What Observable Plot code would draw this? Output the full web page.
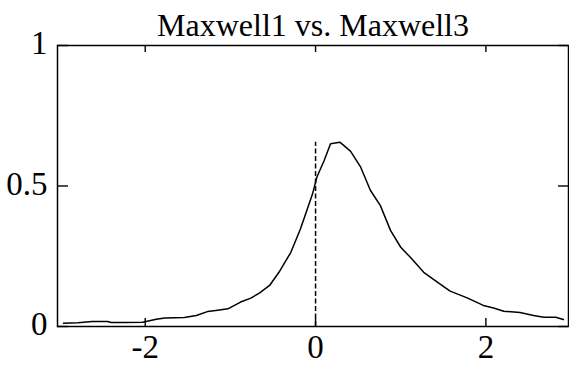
<!DOCTYPE html>
<html>
<head>
<meta charset="utf-8">
<script src="https://cdn.jsdelivr.net/npm/d3@7"></script>
<script src="https://cdn.jsdelivr.net/npm/@observablehq/plot@0.6"></script>
<style>
  html, body { margin: 0; padding: 0; background: #fff; }
  #chart svg { display: block; }
</style>
</head>
<body>
<div id="chart"></div>
<script>
// ---- data ----
const titleText = ["Maxwell1 vs. Maxwell3"];
const xValues = [-2.96, -2.79, -2.62, -2.44, -2.40, -2.24, -2.03, -1.87, -1.77, -1.54,
  -1.40, -1.27, -1.17, -1.03, -0.88, -0.76, -0.66, -0.54, -0.43, -0.29,
  -0.18, -0.13, -0.035, 0.015, 0.10, 0.176, 0.285, 0.41, 0.53, 0.645,
  0.76, 0.88, 1.00, 1.11, 1.27, 1.43, 1.58, 1.78, 1.97, 2.09,
  2.21, 2.40, 2.56, 2.68, 2.82, 2.91];
const yValues = [0.012, 0.013, 0.018, 0.018, 0.014, 0.014, 0.015, 0.026, 0.030, 0.032,
  0.039, 0.053, 0.057, 0.063, 0.087, 0.101, 0.119, 0.146, 0.193, 0.264,
  0.345, 0.389, 0.472, 0.531, 0.590, 0.650, 0.656, 0.624, 0.567, 0.484,
  0.431, 0.342, 0.282, 0.247, 0.193, 0.158, 0.126, 0.102, 0.075, 0.066,
  0.054, 0.050, 0.039, 0.033, 0.033, 0.025];
const markerX = [0];
const markerTop = [0.656];
const xTicks = [-2, 0, 2];
const yTicks = [0, 0.5, 1];

// ---- build ----
const curve = xValues.map((x, i) => ({x, y: yValues[i]}));
const marker = markerX.map((x, i) => ({x, y1: 0, y2: markerTop[i]}));

const W = 569, H = 367;
const mL = 57, mR = 1, mT = 45, mB = 41;
const fw = W - mL - mR, fh = H - mT - mB;
const font = "'Liberation Serif', 'Times New Roman', serif";

const plot = Plot.plot({
  width: W,
  height: H,
  marginLeft: mL, marginRight: mR, marginTop: mT, marginBottom: mB,
  style: {fontFamily: font, color: "#000", background: "#fff"},
  x: {domain: [-3.03, 2.97], axis: null},
  y: {domain: [0, 1], axis: null},
  marks: [
    Plot.axisX({ticks: xTicks, tickSize: 0, tickPadding: 8, fontSize: 33, label: null,
      fontFamily: font, fill: "#000", tickFormat: d => String(d)}),
    Plot.axisY({ticks: yTicks, tickSize: 0, tickPadding: 10, fontSize: 33, label: null,
      fontFamily: font, fill: "#000", dy: -2, tickFormat: d => String(d)}),
    // inward ticks
    Plot.tickX(xTicks, {x: d => d, insetTop: fh - 8, stroke: "#000", strokeWidth: 1.4}),
    Plot.tickX(xTicks, {x: d => d, insetBottom: fh - 7, stroke: "#000", strokeWidth: 1.4}),
    Plot.tickY(yTicks, {y: d => d, insetRight: fw - 11, stroke: "#000", strokeWidth: 1.4}),
    Plot.tickY(yTicks, {y: d => d, insetLeft: fw - 10, stroke: "#000", strokeWidth: 1.4}),
    Plot.ruleX(marker, {x: "x", y1: "y1", y2: "y2", stroke: "#000", strokeWidth: 1.5,
      strokeDasharray: "5,2.5"}),
    Plot.line(curve, {x: "x", y: "y", stroke: "#000", strokeWidth: 1.5}),
    Plot.frame({stroke: "#000", strokeWidth: 1.5}),
    Plot.text(titleText, {text: d => d, frameAnchor: "top", lineAnchor: "bottom",
      dy: -10, fontSize: 32, fontFamily: font, fill: "#000"})
  ]
});
document.getElementById("chart").appendChild(plot);
</script>
</body>
</html>
